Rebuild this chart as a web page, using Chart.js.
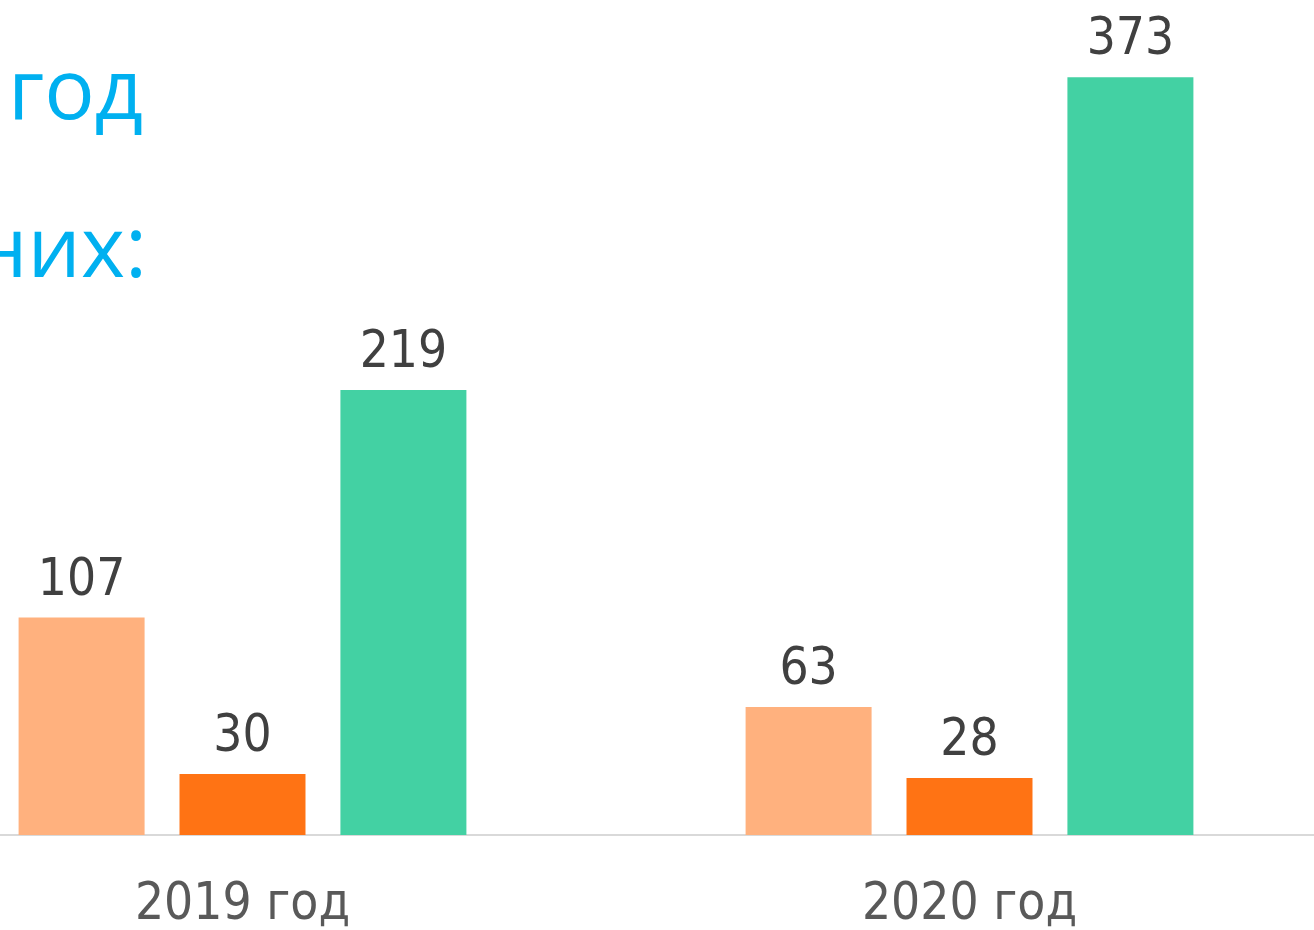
<!DOCTYPE html>
<html>
<head>
<meta charset="utf-8">
<script src="https://cdn.jsdelivr.net/npm/chart.js@4/dist/chart.umd.min.js"></script>
<style>
  html, body { margin: 0; padding: 0; background: #ffffff; overflow: hidden; }
  body { width: 1314px; height: 930px; position: relative; }
  #wrap { position: absolute; left: -121.5px; top: 0; width: 1454px; height: 930px; }
  .title { position: absolute; white-space: nowrap; font-family: "Open Sans", sans-serif; font-size: 84px; color: #00B0F0; line-height: 1; text-align: right; }
</style>
</head>
<body>
<div id="wrap"><canvas id="c"></canvas></div>
<div class="title" style="top: 45px; right: 1171px;">год</div>
<div class="title" style="top: 203px; right: 1167px;">них:</div>
<script>
const categories = ["2019 год", "2020 год"];
const series1 = [107, 63];
const series2 = [30, 28];
const series3 = [219, 373];
const colors = ["#FFB17E", "#FF7314", "#43D1A3"];

const FONT = '"DejaVu Sans Condensed", "DejaVu Sans", sans-serif';

const valueLabels = {
  id: 'valueLabels',
  afterDatasetsDraw(chart) {
    const ctx = chart.ctx;
    ctx.save();
    ctx.font = '51px ' + FONT;
    ctx.fillStyle = '#404040';
    ctx.textAlign = 'center';
    ctx.textBaseline = 'alphabetic';
    chart.data.datasets.forEach((ds, i) => {
      const meta = chart.getDatasetMeta(i);
      meta.data.forEach((bar, j) => {
        ctx.fillText(String(ds.data[j]), bar.x, bar.y - 23);
      });
    });
    ctx.restore();
  }
};

new Chart(document.getElementById('c'), {
  type: 'bar',
  data: {
    labels: categories,
    datasets: [
      { data: series1, backgroundColor: colors[0] },
      { data: series2, backgroundColor: colors[1] },
      { data: series3, backgroundColor: colors[2] }
    ]
  },
  options: {
    responsive: true,
    maintainAspectRatio: false,
    animation: false,
    devicePixelRatio: 1,
    layout: { padding: 0 },
    datasets: { bar: { barPercentage: 0.783, categoryPercentage: 0.664 } },
    plugins: { legend: { display: false }, tooltip: { enabled: false }, title: { display: false } },
    scales: {
      x: {
        grid: { display: false, drawTicks: false },
        border: { display: true, color: '#D9D9D9', width: 2 },
        ticks: { color: '#595959', font: { family: FONT, size: 51 }, padding: 40 },
        afterFit(scale) { scale.height = 95; }
      },
      y: {
        display: false,
        min: 0,
        max: 411
      }
    }
  },
  plugins: [valueLabels]
});
</script>
</body>
</html>
